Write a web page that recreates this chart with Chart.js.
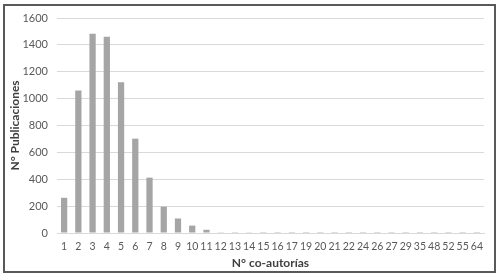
<!DOCTYPE html>
<html>
<head>
<meta charset="utf-8">
<script src="https://cdn.jsdelivr.net/npm/chart.js@4/dist/chart.umd.min.js"></script>
<style>
	body { margin: 0; background: #fff; }
	#wrap { width: 500px; height: 278px; position: relative; }
</style>
</head>
<body>
<div id="wrap"><canvas id="graph" width="500" height="278"></canvas></div>
<script>
const labels = ['1', '2', '3', '4', '5', '6', '7', '8', '9', '10', '11', '12', '13', '14', '15', '16', '17',
	'19', '20', '21', '22', '24', '26', '27', '29', '35', '48', '52', '55', '64'];

const publicaciones = [262, 1060, 1482, 1460, 1122, 702, 412, 196, 108, 55, 24, 2, 6, 2, 1, 1, 1,
	1, 1, 1, 1, 1, 1, 1, 1, 1, 1, 1, 1, 1];

const yTicks = [0, 200, 400, 600, 800, 1000, 1200, 1400, 1600];

const frame = {
	id: 'frame',
	beforeDraw(chart) {
		const ctx = chart.ctx;
		ctx.save();
		ctx.fillStyle = '#fff';
		ctx.fillRect(0, 0, chart.width, chart.height);
		ctx.strokeStyle = '#595959';
		ctx.lineWidth = 2;
		ctx.strokeRect(4, 5, 491, 267);
		ctx.restore();
	},
};

const font = { family: 'Lato, "Open Sans", sans-serif', size: 10.5 };

const c = new Chart(document.getElementById('graph'), {
	type: 'bar',
	data: {
		labels: labels,
		datasets: [
			{
				label: 'N° Publicaciones',
				data: publicaciones,
				backgroundColor: '#a5a5a5',
				barPercentage: 0.44,
				categoryPercentage: 1,
			},
		],
	},
	options: {
		responsive: false,
		animation: false,
		layout: { padding: { left: 0, right: 16, top: 18, bottom: 8 } },
		scales: {
			x: {
				grid: { display: false, drawTicks: false },
				border: { color: '#d9d9d9', width: 1 },
				ticks: { color: '#595959', font: font, padding: 7, maxRotation: 0, autoSkip: false },
				title: {
					display: true,
					text: 'N° co-autorías',
					color: '#404040',
					font: { family: font.family, size: 12, weight: 'bold' },
					padding: 0,
				},
				afterFit(s) { s.height = 37; },
			},
			y: {
				min: 0,
				max: 1600,
				afterBuildTicks(s) { s.ticks = yTicks.map((v) => ({ value: v })); },
				grid: { color: '#d9d9d9', drawTicks: false },
				border: { display: false },
				ticks: { color: '#595959', font: { family: font.family, size: 11 }, padding: 9, callback: (v) => String(v) },
				title: {
					display: true,
					text: 'N° Publicaciones',
					color: '#404040',
					font: { family: font.family, size: 12, weight: 'bold' },
					padding: { top: 8, bottom: 0 },
				},
				afterFit(s) { s.width = 57; },
			},
		},
		plugins: {
			legend: { display: false },
			tooltip: { enabled: false },
		},
	},
	plugins: [frame],
});
</script>
</body>
</html>
